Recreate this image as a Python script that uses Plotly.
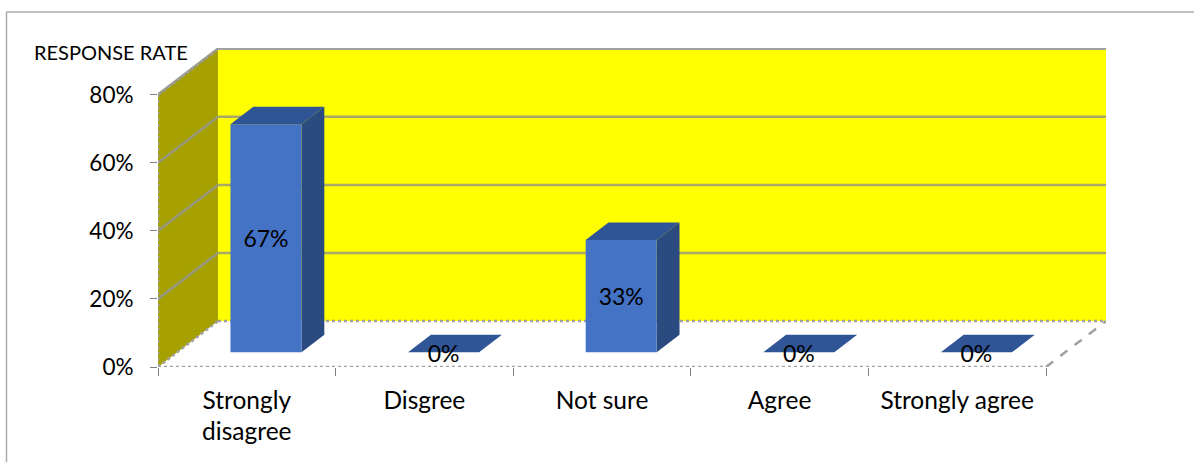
import plotly.graph_objects as go

# Survey results
categories = ["Strongly<br>disagree", "Disgree", "Not sure", "Agree", "Strongly agree"]
response_rate = [67, 0, 33, 0, 0]
y_ticks = [0, 20, 40, 60, 80]
y_tick_labels = ["0%", "20%", "40%", "60%", "80%"]
y_axis_title = "RESPONSE RATE"

# Canvas and plot frame, in pixels
WIDTH, HEIGHT = 1194, 463
LEFT, RIGHT, TOP, BOTTOM = 158, 1106, 48, 367.5
CAT_PX = 177.6           # width of one category on the front plane
PCT_PX = 3.41            # pixels per percentage point
DEPTH_X_PX, DEPTH_Y_PX = 60, 46   # oblique offset of the back wall

DX = DEPTH_X_PX / CAT_PX
DY = DEPTH_Y_PX / PCT_PX
N = len(categories)
Y_MAX = (BOTTOM - TOP) / PCT_PX

BAR_WIDTH = 0.4
BAR_D0, BAR_D1 = 0.32, 0.70   # bar front and back, as fractions of the floor depth
LABEL_DROP = 3.5 / PCT_PX     # optical centring of the value labels

FONT = "Lato, Carlito, Calibri, sans-serif"
C_WALL = "#FFFF00"
C_SIDE = "#A6A000"
C_GRID = "#A8A868"
C_GRID_SIDE = "#989880"
C_EDGE = "#A0A0A0"
C_FRONT = "#4472C4"
C_TOP = "#2F5597"
C_RIGHT = "#2A4A80"


def project(u, v, d):
    """Oblique projection: category position, value and depth to axis coordinates."""
    return u + DX * d, v + DY * d


def poly(points, fill, name):
    xs, ys = zip(*[project(*p) for p in points])
    return go.Scatter(x=list(xs) + [xs[0]], y=list(ys) + [ys[0]], mode="lines",
                      fill="toself", fillcolor=fill, line=dict(width=0),
                      hoverinfo="skip", name=name, showlegend=False, cliponaxis=False)


def edge(points, color, width=1.5, dash="solid"):
    xs, ys = zip(*[project(*p) for p in points])
    return go.Scatter(x=list(xs), y=list(ys), mode="lines",
                      line=dict(color=color, width=width, dash=dash),
                      hoverinfo="skip", showlegend=False, cliponaxis=False)


fig = go.Figure()
top_tick = y_ticks[-1]

# Walls
fig.add_trace(poly([(0, 0, 1), (N, 0, 1), (N, top_tick, 1), (0, top_tick, 1)], C_WALL, "back wall"))
fig.add_trace(poly([(0, 0, 0), (0, 0, 1), (0, top_tick, 1), (0, top_tick, 0)], C_SIDE, "side wall"))

# Gridlines run across the side wall and along the back wall
for t in y_ticks[1:]:
    fig.add_trace(edge([(0, t, 0), (0, t, 1)], C_GRID_SIDE, 2.5))
    fig.add_trace(edge([(0, t, 1), (N, t, 1)], C_GRID if t < top_tick else C_EDGE, 2.5))

# Floor outline and vertical axis
fig.add_trace(edge([(0, 0, 0), (N, 0, 0)], C_EDGE, 2.5, "dot"))
fig.add_trace(edge([(0, 0, 1), (N, 0, 1)], C_EDGE, 2.5, "dot"))
fig.add_trace(edge([(N, 0, 0), (N, 0, 1)], C_EDGE, 2.5, "dash"))
fig.add_trace(edge([(0, 0, 0), (0, 0, 1)], C_EDGE, 2.5, "dot"))
fig.add_trace(edge([(0, 0, 0), (0, top_tick, 0)], C_EDGE, 2.5, "dot"))
fig.add_trace(edge([(0, top_tick, 0), (0, top_tick, 1)], C_EDGE, 2.5, "dot"))

# Bars: right side, top, then front face
label_x, label_y, label_text = [], [], []
for i, value in enumerate(response_rate):
    u0 = i + 0.5 - BAR_WIDTH / 2
    u1 = i + 0.5 + BAR_WIDTH / 2
    if value > 0:
        fig.add_trace(poly([(u1, 0, BAR_D0), (u1, 0, BAR_D1), (u1, value, BAR_D1), (u1, value, BAR_D0)],
                           C_RIGHT, "bar side"))
        fig.add_trace(poly([(u0, 0, BAR_D0), (u1, 0, BAR_D0), (u1, value, BAR_D0), (u0, value, BAR_D0)],
                           C_FRONT, "bar front"))
    fig.add_trace(poly([(u0, value, BAR_D0), (u1, value, BAR_D0), (u1, value, BAR_D1), (u0, value, BAR_D1)],
                       C_TOP, "bar top"))
    lx, ly = project(i + 0.5, value / 2, BAR_D0)
    label_x.append(lx)
    label_y.append(ly - LABEL_DROP)
    label_text.append(f"{value}%")

fig.add_trace(go.Scatter(x=label_x, y=label_y, text=label_text, mode="text",
                         textposition="middle center",
                         textfont=dict(family=FONT, size=23, color="#000000"),
                         hoverinfo="skip", showlegend=False, cliponaxis=False))

fig.update_layout(
    width=WIDTH, height=HEIGHT,
    autosize=False,
    margin=dict(l=LEFT, r=WIDTH - RIGHT, t=TOP, b=HEIGHT - BOTTOM, pad=0),
    paper_bgcolor="#FFFFFF", plot_bgcolor="rgba(0,0,0,0)",
    font=dict(family=FONT, color="#000000"),
    showlegend=False,
    xaxis=dict(
        range=[0, N + DX], showgrid=False, zeroline=False, showline=False,
        tickmode="array", tickvals=[i + 0.5 for i in range(N)], ticktext=categories,
        ticks="", ticklen=0, tickangle=0, ticklabelstandoff=16,
        tickfont=dict(family=FONT, size=24.5, color="#000000"),
        minor=dict(tickmode="array", tickvals=list(range(N + 1)), ticks="outside",
                   ticklen=8, tickwidth=1, tickcolor="#808080", showgrid=False),
        fixedrange=True,
    ),
    yaxis=dict(
        range=[0, Y_MAX], showgrid=False, zeroline=False, showline=False,
        tickmode="array", tickvals=y_ticks, ticktext=y_tick_labels,
        ticks="outside", ticklen=7, tickwidth=1, tickcolor="#808080",
        ticklabelstandoff=12,
        tickfont=dict(family=FONT, size=22.5, color="#000000"),
        fixedrange=True,
    ),
)

plot_w = RIGHT - LEFT
plot_h = BOTTOM - TOP
px_x = lambda p: (p - LEFT) / plot_w
px_y = lambda p: (BOTTOM - p) / plot_h

# Chart frame: top and left edges
fig.add_shape(type="line", xref="paper", yref="paper", x0=px_x(6.5), x1=px_x(WIDTH),
              y0=px_y(12), y1=px_y(12), line=dict(color="#ABABAB", width=1.5))
fig.add_shape(type="line", xref="paper", yref="paper", x0=px_x(6.5), x1=px_x(6.5),
              y0=px_y(12), y1=px_y(HEIGHT), line=dict(color="#ABABAB", width=1.5))

fig.add_annotation(text=y_axis_title, xref="paper", yref="paper", x=px_x(189.5), y=px_y(52),
                   xanchor="right", yanchor="middle", showarrow=False,
                   font=dict(family=FONT, size=20, color="#000000"))

fig.write_html("out.html", config=dict(displayModeBar=False))
